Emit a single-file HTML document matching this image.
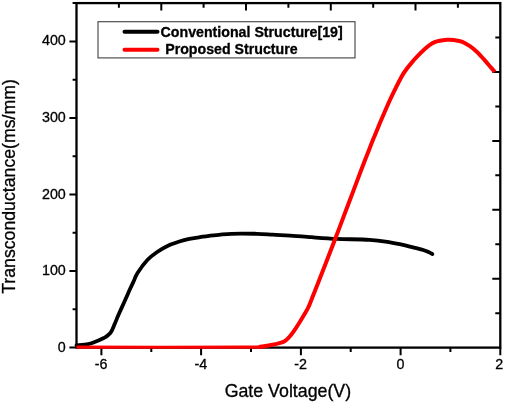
<!DOCTYPE html>
<html><head><meta charset="utf-8"><title>Transconductance vs Gate Voltage</title>
<style>html,body{margin:0;padding:0;background:#fff}svg{display:block}text{font-family:"Liberation Sans",Arial,Helvetica,sans-serif;fill:#000;stroke:#000;stroke-width:0.3px}</style></head>
<body>
<svg width="505" height="403" viewBox="0 0 505 403">
<rect width="505" height="403" fill="#fff"/>
<path d="M101.4 347.6 V355.3 M201.1 347.6 V355.3 M300.9 347.6 V355.3 M400.6 347.6 V355.3 M500.3 347.6 V355.3 M151.3 347.6 V352.0 M251.0 347.6 V352.0 M350.7 347.6 V352.0 M450.4 347.6 V352.0 M76.5 347.6 H69.4 M76.5 271.0 H69.4 M76.5 194.5 H69.4 M76.5 117.9 H69.4 M76.5 41.4 H69.4 M76.5 309.3 H72.6 M76.5 232.8 H72.6 M76.5 156.2 H72.6 M76.5 79.7 H72.6 M76.5 3.1 H72.6 M118.9 3.1 V7.8 M500.3 37.6 H495.3 M161.3 3.1 V10.5 M500.3 72.0 H492.3 M203.6 3.1 V7.8 M500.3 106.4 H495.3 M246.0 3.1 V10.5 M500.3 140.9 H492.3 M288.4 3.1 V7.8 M500.3 175.3 H495.3 M330.8 3.1 V10.5 M500.3 209.8 H492.3 M373.2 3.1 V7.8 M500.3 244.2 H495.3 M415.5 3.1 V10.5 M500.3 278.7 H492.3 M457.9 3.1 V7.8 M500.3 313.2 H495.3" stroke="#000" stroke-width="2" fill="none"/>
<rect x="76.5" y="3.1" width="423.8" height="344.5" fill="none" stroke="#000" stroke-width="2.3"/>
<path d="M76.5 345.3C78.4 345.1 84.8 344.9 88.0 344.2C91.2 343.5 93.4 342.4 96.0 341.4C98.6 340.4 102.0 338.9 103.8 338.0C105.6 337.1 105.8 337.1 107.0 336.0C108.2 334.9 109.9 333.8 111.2 331.7C112.5 329.6 113.7 326.2 114.9 323.5C116.1 320.8 117.2 317.8 118.3 315.3C119.4 312.8 120.2 311.1 121.4 308.4C122.6 305.7 124.2 302.1 125.6 299.0C127.0 295.9 128.4 292.5 129.8 289.5C131.2 286.5 132.5 283.8 133.8 281.0C135.1 278.2 135.4 276.2 137.7 272.7C140.0 269.2 144.3 263.3 147.6 259.8C150.9 256.3 154.2 254.1 157.5 251.8C160.8 249.5 163.8 247.6 167.5 245.9C171.2 244.2 175.8 242.7 179.4 241.5C183.0 240.3 185.9 239.6 189.3 238.9C192.7 238.2 196.7 237.7 200.0 237.2C203.3 236.7 204.0 236.4 209.2 235.8C214.4 235.2 223.5 234.1 231.4 233.8C239.3 233.5 249.8 233.7 256.7 233.8C263.6 233.9 267.1 234.3 272.6 234.6C278.2 234.9 283.5 235.2 290.0 235.6C296.5 236.0 303.9 236.6 311.7 237.2C319.5 237.8 327.4 238.5 337.0 238.9C346.6 239.3 360.7 239.2 369.5 239.8C378.3 240.4 384.6 241.5 390.0 242.3C395.4 243.1 397.9 243.7 401.9 244.6C405.9 245.5 410.2 246.7 413.8 247.6C417.4 248.5 420.7 249.2 423.3 250.0C425.9 250.8 427.8 251.7 429.3 252.4C430.8 253.1 431.9 253.8 432.4 254.1" stroke="#000" stroke-width="3.8" fill="none" stroke-linecap="round" stroke-linejoin="round"/>
<clipPath id="c"><rect x="75.3" y="0" width="430" height="348.8"/></clipPath>
<path d="M76.5 347.6C104.6 347.6 214.4 347.7 245.0 347.6C275.6 347.5 255.8 347.2 260.0 346.8C264.1 346.4 266.8 345.8 269.9 345.2C273.0 344.6 276.2 344.0 278.6 343.4C281.0 342.8 282.6 342.4 284.2 341.5C285.8 340.6 286.9 339.4 288.5 337.8C290.1 336.2 291.9 333.9 293.5 331.6C295.1 329.3 296.8 326.8 298.4 324.2C300.0 321.6 301.7 319.0 303.4 316.1C305.1 313.2 307.1 310.0 308.5 307.0C310.0 304.0 311.0 300.9 312.1 298.0C313.3 295.1 313.9 293.4 315.4 289.7C316.9 286.0 319.1 280.3 320.9 275.8C322.6 271.3 324.2 267.2 325.9 262.9C327.6 258.5 329.4 253.9 331.0 249.7C332.7 245.5 333.9 242.3 335.7 237.5C337.6 232.7 339.8 226.9 342.1 220.6C344.5 214.3 347.7 205.8 350.0 199.8C352.2 193.9 353.7 189.9 355.6 184.9C357.5 179.9 359.3 174.9 361.3 169.7C363.3 164.5 365.5 158.8 367.6 153.5C369.7 148.2 371.8 142.7 373.9 137.6C376.0 132.5 378.1 127.3 380.0 122.7C382.0 118.1 383.7 114.1 385.6 109.8C387.5 105.5 388.5 103.0 391.4 96.9C394.4 90.8 399.6 79.7 403.5 73.4C407.4 67.1 411.1 63.4 414.6 59.3C418.2 55.2 421.5 51.8 424.8 48.9C428.1 46.0 431.0 43.6 434.7 42.1C438.4 40.6 443.6 40.1 447.0 39.8C450.4 39.5 452.4 39.9 455.0 40.2C457.6 40.5 459.9 40.8 462.4 41.8C464.9 42.8 467.4 44.5 469.9 46.2C472.4 47.9 474.8 49.9 477.3 52.2C479.8 54.6 482.8 58.1 484.8 60.3C486.8 62.5 487.5 63.6 489.2 65.5C490.9 67.4 493.9 70.8 494.8 71.8" stroke="#f00" stroke-width="4" fill="none" stroke-linecap="butt" stroke-linejoin="round" clip-path="url(#c)"/>
<rect x="98" y="21.7" width="257" height="36.2" fill="#fff" stroke="#484848" stroke-width="1.15"/>
<path d="M124.5 31.7 H157.5" stroke="#000" stroke-width="4" stroke-linecap="round"/>
<path d="M124.5 49.8 H157.5" stroke="#f00" stroke-width="4" stroke-linecap="round"/>
<text x="160.6" y="36.5" font-size="14.2" font-weight="bold" fill="#000">Conventional Structure[19]</text>
<text x="165.2" y="54.1" font-size="14.2" font-weight="bold" fill="#000">Proposed Structure</text>
<text x="101.2" y="368.9" font-size="14.3" text-anchor="middle">-6</text>
<text x="200.9" y="368.9" font-size="14.3" text-anchor="middle">-4</text>
<text x="300.7" y="368.9" font-size="14.3" text-anchor="middle">-2</text>
<text x="400.6" y="368.9" font-size="14.3" text-anchor="middle">0</text>
<text x="499.3" y="368.9" font-size="14.3" text-anchor="middle">2</text>
<text x="65.8" y="351.6" font-size="14.3" text-anchor="end">0</text>
<text x="65.8" y="275.0" font-size="14.3" text-anchor="end">100</text>
<text x="65.8" y="198.5" font-size="14.3" text-anchor="end">200</text>
<text x="65.8" y="121.9" font-size="14.3" text-anchor="end">300</text>
<text x="65.8" y="45.4" font-size="14.3" text-anchor="end">400</text>
<text x="287.9" y="397.1" font-size="17.8" text-anchor="middle">Gate Voltage(V)</text>
<text transform="translate(14.8 186.5) rotate(-90)" font-size="17.7" text-anchor="middle">Transconductance(ms/mm)</text>
</svg>
</body></html>
